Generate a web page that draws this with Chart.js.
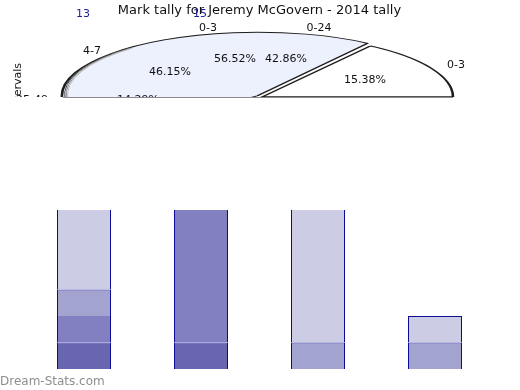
<!DOCTYPE html>
<html><head><meta charset="utf-8">
<script src="https://cdn.jsdelivr.net/npm/chart.js@4/dist/chart.umd.min.js"></script>
<style>
html,body{margin:0;padding:0;background:#fff;}
#wrap{position:relative;width:520px;height:390px;overflow:hidden;}
#wrap canvas{position:absolute;left:0;top:0;}
</style></head><body>
<div id="wrap"><canvas id="bars" width="520" height="390"></canvas><canvas id="pie" width="520" height="390"></canvas></div>
<script>
// ---- data ----
const titleText = 'Mark tally for Jeremy McGovern - 2014 tally';
const categories = ['0-3', '4-7', '0-24', '25-49'];
const seriesA = [1, 1, 1, 1];
const seriesB = [1, 14, 11, 1];
const seriesC = [1, null, null, null];
const seriesD = [10, null, null, null];
const barTotals = ['13', '15', '', ''];
const pieSlices = ['4-7', '0-3', 'other'];
const pieValues = [46.15, 15.38, 38.47];
const pieTexts = ['0-3', '0-24', '4-7', '0-3', '56.52%', '42.86%', '46.15%', '15.38%', '14.29%', '25-49'];
const axisTitle = 'Intervals';
const watermark = 'Dream-Stats.com';

// ---- styles ----
const FONT = '"DejaVu Sans", sans-serif';
const C_DARK = '#6866b0', C_MED = '#8280c0', C_LM = '#a3a3d0', C_LIGHT = '#cccce5';
const BORDER = '#0b0b96';
const bw = {top: 1, left: 1, right: 1, bottom: 0};
const PIE_OFFSET = 23;

const barPlugin = {
  id: 'barExtras',
  afterDatasetsDraw(chart) {
    const ctx = chart.ctx;
    const xs = chart.scales.x;
    ctx.save();
    ctx.font = '11px ' + FONT;
    ctx.fillStyle = '#1c1c9c';
    ctx.textAlign = 'center';
    ctx.textBaseline = 'middle';
    barTotals.forEach((t, i) => { if (t) ctx.fillText(t, xs.getPixelForValue(i) - 1, 14); });
    ctx.font = '12px ' + FONT;
    ctx.fillStyle = '#8e8e8e';
    ctx.textAlign = 'left';
    ctx.textBaseline = 'alphabetic';
    ctx.fillText(watermark, 0, 385);
    ctx.restore();
  }
};

new Chart(document.getElementById('bars'), {
  type: 'bar',
  data: {
    labels: categories,
    datasets: [
      {data: seriesA, backgroundColor: [C_DARK, C_DARK, C_LM, C_LM], borderColor: BORDER, borderWidth: bw, borderSkipped: false, clip: 0},
      {data: seriesB, backgroundColor: [C_MED, C_MED, C_LIGHT, C_LIGHT], borderColor: BORDER,
        borderWidth: (c) => c.dataIndex === 0 ? {top: 0, left: 1, right: 1, bottom: 0} : bw, borderSkipped: false, clip: 0},
      {data: seriesC, backgroundColor: C_LM, borderColor: BORDER, borderWidth: bw, borderSkipped: false, clip: 0},
      {data: seriesD, backgroundColor: C_LIGHT, borderColor: BORDER, borderWidth: bw, borderSkipped: false, clip: 0}
    ]
  },
  options: {
    responsive: false, animation: false, devicePixelRatio: 1,
    layout: {padding: {left: 25.5, right: 26.5, top: 0, bottom: 21}},
    datasets: {bar: {barPercentage: 0.4615, categoryPercentage: 1}},
    scales: {
      x: {display: false, stacked: true},
      y: {display: false, stacked: true, min: 0, max: 6}
    },
    plugins: {
      legend: {display: false}, tooltip: {enabled: false},
      title: {display: true, text: titleText, color: '#111', font: {family: FONT, size: 13, weight: 'normal'},
        padding: {top: 3, bottom: 191.4}}
    }
  },
  plugins: [barPlugin]
});

const CX = 262, CY = 97, RX = 191, RY = 62;
function lightShift(chart) {
  const arc = chart.getDatasetMeta(0).data[0];
  const r = arc.outerRadius;
  const half = (arc.startAngle + arc.endAngle) / 2;
  const circ = arc.endAngle - arc.startAngle;
  const total = PIE_OFFSET / 4 * (2 - Math.sin(Math.min(Math.PI, circ)));
  return {dx: Math.cos(half) * total * RX / r, dy: Math.sin(half) * total * RY / r};
}
const piePlugin = {
  id: 'ellipsePie',
  beforeDatasetsDraw(chart) {
    const arc = chart.getDatasetMeta(0).data[0];
    const ctx = chart.ctx;
    ctx.save();
    ctx.beginPath(); ctx.rect(0, 0, chart.width, CY); ctx.clip();
    const r = arc.outerRadius;
    ctx.translate(CX, CY);
    ctx.scale(RX / r, RY / r);
    ctx.translate(-arc.x, -arc.y);
  },
  afterDatasetsDraw(chart) {
    const ctx = chart.ctx;
    ctx.restore();
    const {dx, dy} = lightShift(chart);
    ctx.save();
    ctx.beginPath(); ctx.rect(0, 0, chart.width, CY); ctx.clip();
    // rim shading on the left edge
    [[1.5, '#4a4a4a'], [3, '#8a8a8a'], [4.5, '#c0c0c0']].forEach(([d, col]) => {
      ctx.strokeStyle = col; ctx.lineWidth = 1;
      ctx.beginPath(); ctx.ellipse(CX + dx + d, CY + dy, RX, RY, 0, Math.PI * 0.98, Math.PI * 1.27); ctx.stroke();
    });
    ctx.restore();
    ctx.save();
    ctx.strokeStyle = '#8a8a8a'; ctx.lineWidth = 1;
    ctx.beginPath(); ctx.moveTo(CX + dx - RX, CY + 0.5); ctx.lineTo(CX + RX, CY + 0.5); ctx.stroke();
    ctx.restore();
  },
  afterDraw(chart) {
    const ctx = chart.ctx;
    const pos = [[208, 28], [319, 28], [92, 51], [456, 65], [235, 59], [286, 59], [170, 72], [365, 80], [138, 100], [32, 100]];
    ctx.save();
    ctx.beginPath(); ctx.rect(0, 0, chart.width, CY); ctx.clip();
    ctx.font = '11px ' + FONT;
    ctx.fillStyle = '#111';
    ctx.textAlign = 'center';
    ctx.textBaseline = 'middle';
    pieTexts.forEach((t, i) => ctx.fillText(t, pos[i][0], pos[i][1]));
    ctx.translate(18, 63);
    ctx.rotate(-Math.PI / 2);
    ctx.textAlign = 'right';
    ctx.fillText(axisTitle, 0, 0);
    ctx.restore();
  }
};

new Chart(document.getElementById('pie'), {
  type: 'pie',
  data: {
    labels: pieSlices,
    datasets: [{
      data: pieValues,
      backgroundColor: ['#edf1fd', '#ffffff', '#ffffff'],
      borderColor: '#1e1e1e',
      borderWidth: 2.5,
      offset: [PIE_OFFSET, 0, 0]
    }]
  },
  options: {
    responsive: false, animation: false, devicePixelRatio: 1,
    rotation: 228.4,
    plugins: {legend: {display: false}, tooltip: {enabled: false}, title: {display: false}}
  },
  plugins: [piePlugin]
});
</script>
</body></html>
